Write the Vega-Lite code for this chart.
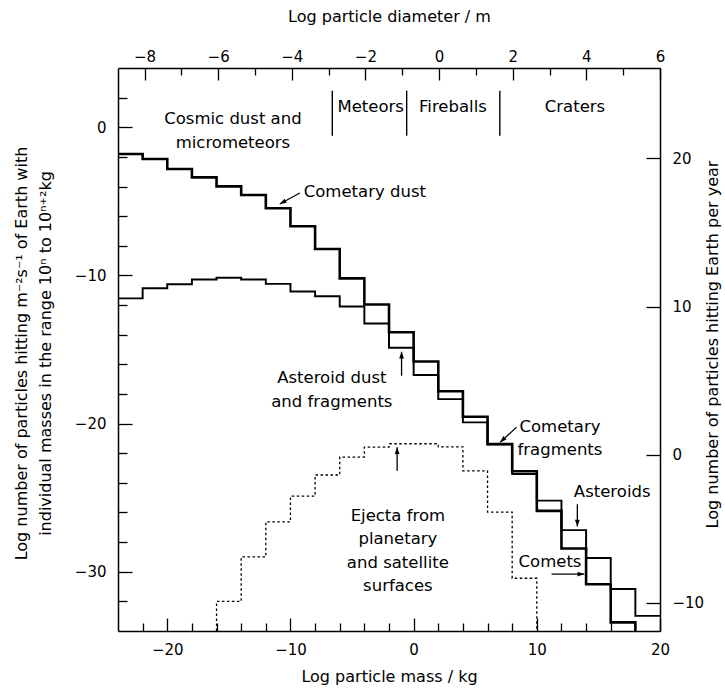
{
  "$schema": "https://vega.github.io/schema/vega-lite/v6.json",
  "width": 542,
  "height": 563,
  "autosize": {"type": "none"},
  "padding": {"left": 118, "top": 68, "right": 65, "bottom": 62},
  "background": "white",
  "config": {
    "view": {"stroke": null},
    "font": "DejaVu Sans",
    "axis": {
      "domainColor": "black", "domainWidth": 1.5, "tickColor": "black", "tickWidth": 1.3,
      "labelColor": "black", "titleColor": "black", "labelFont": "DejaVu Sans", "titleFont": "DejaVu Sans",
      "labelFontSize": 15, "titleFontSize": 16, "titleFontWeight": "normal", "grid": false,
      "labelOverlap": false, "labelFlush": false
    },
    "text": {"font": "DejaVu Sans", "fontSize": 16.5, "color": "black"}
  },
  "datasets": {
    "steps": [
      {"series": "comet", "i": 0, "m": -24, "v": -1.8},
      {"series": "comet", "i": 1, "m": -22, "v": -2.14},
      {"series": "comet", "i": 2, "m": -20, "v": -2.82},
      {"series": "comet", "i": 3, "m": -18, "v": -3.38},
      {"series": "comet", "i": 4, "m": -16, "v": -3.99},
      {"series": "comet", "i": 5, "m": -14, "v": -4.57},
      {"series": "comet", "i": 6, "m": -12, "v": -5.47},
      {"series": "comet", "i": 7, "m": -10, "v": -6.68},
      {"series": "comet", "i": 8, "m": -8, "v": -8.22},
      {"series": "comet", "i": 9, "m": -6, "v": -10.2},
      {"series": "comet", "i": 10, "m": -4, "v": -11.96},
      {"series": "comet", "i": 11, "m": -2, "v": -13.84},
      {"series": "comet", "i": 12, "m": 0, "v": -15.81},
      {"series": "comet", "i": 13, "m": 2, "v": -17.82},
      {"series": "comet", "i": 14, "m": 4, "v": -19.54},
      {"series": "comet", "i": 15, "m": 6, "v": -21.38},
      {"series": "comet", "i": 16, "m": 8, "v": -23.22},
      {"series": "comet", "i": 17, "m": 10, "v": -25.89},
      {"series": "comet", "i": 18, "m": 12, "v": -28.43},
      {"series": "comet", "i": 19, "m": 14, "v": -30.84},
      {"series": "comet", "i": 20, "m": 16, "v": -33.42},
      {"series": "comet", "i": 21, "m": 18, "v": -34},
      {"series": "asteroid", "i": 0, "m": -24, "v": -11.55},
      {"series": "asteroid", "i": 1, "m": -22, "v": -10.86},
      {"series": "asteroid", "i": 2, "m": -20, "v": -10.6},
      {"series": "asteroid", "i": 3, "m": -18, "v": -10.27},
      {"series": "asteroid", "i": 4, "m": -16, "v": -10.16},
      {"series": "asteroid", "i": 5, "m": -14, "v": -10.27},
      {"series": "asteroid", "i": 6, "m": -12, "v": -10.57},
      {"series": "asteroid", "i": 7, "m": -10, "v": -11.08},
      {"series": "asteroid", "i": 8, "m": -8, "v": -11.4},
      {"series": "asteroid", "i": 9, "m": -6, "v": -12.1},
      {"series": "asteroid", "i": 10, "m": -4, "v": -13.25},
      {"series": "asteroid", "i": 11, "m": -2, "v": -14.88},
      {"series": "asteroid", "i": 12, "m": 0, "v": -16.72},
      {"series": "asteroid", "i": 13, "m": 2, "v": -18.35},
      {"series": "asteroid", "i": 14, "m": 4, "v": -19.92},
      {"series": "asteroid", "i": 15, "m": 6, "v": -21.42},
      {"series": "asteroid", "i": 16, "m": 8, "v": -23.4},
      {"series": "asteroid", "i": 17, "m": 10, "v": -25.2},
      {"series": "asteroid", "i": 18, "m": 12, "v": -27.19},
      {"series": "asteroid", "i": 19, "m": 14, "v": -29.07},
      {"series": "asteroid", "i": 20, "m": 16, "v": -31.17},
      {"series": "asteroid", "i": 21, "m": 18, "v": -32.98},
      {"series": "asteroid", "i": 22, "m": 20, "v": -32.98},
      {"series": "ejecta", "i": 0, "m": -16, "v": -34},
      {"series": "ejecta", "i": 1, "m": -16, "v": -32.0},
      {"series": "ejecta", "i": 2, "m": -14, "v": -29.0},
      {"series": "ejecta", "i": 3, "m": -12, "v": -26.63},
      {"series": "ejecta", "i": 4, "m": -10, "v": -24.9},
      {"series": "ejecta", "i": 5, "m": -8, "v": -23.47},
      {"series": "ejecta", "i": 6, "m": -6, "v": -22.26},
      {"series": "ejecta", "i": 7, "m": -4, "v": -21.59},
      {"series": "ejecta", "i": 8, "m": -2, "v": -21.36},
      {"series": "ejecta", "i": 9, "m": 0, "v": -21.36},
      {"series": "ejecta", "i": 10, "m": 2, "v": -21.57},
      {"series": "ejecta", "i": 11, "m": 4, "v": -23.19},
      {"series": "ejecta", "i": 12, "m": 6, "v": -25.97},
      {"series": "ejecta", "i": 13, "m": 8, "v": -30.44},
      {"series": "ejecta", "i": 14, "m": 10, "v": -34}
    ],
    "labels": [
      {"txt": ["Cosmic dust and", "micrometeors"], "m": -14.67, "v": 0.54},
      {"txt": "Meteors", "m": -3.49, "v": 1.37},
      {"txt": "Fireballs", "m": 3.19, "v": 1.37},
      {"txt": "Craters", "m": 13.1, "v": 1.37},
      {"txt": "Cometary dust", "m": -3.96, "v": -4.37},
      {"txt": ["Asteroid dust", "and fragments"], "m": -6.64, "v": -16.94},
      {"txt": ["Cometary", "fragments"], "m": 11.88, "v": -20.22},
      {"txt": "Asteroids", "m": 16.12, "v": -24.65},
      {"txt": "Comets", "m": 11.07, "v": -29.37},
      {"txt": ["Ejecta from", "planetary", "and satellite", "surfaces"], "m": -1.28, "v": -26.23}
    ],
    "arrows": [
      {"name": "cometary dust", "m": -9.24, "v": -4.44, "m2": -10.87, "v2": -5.18},
      {"name": "asteroid dust", "m": -0.98, "v": -16.77, "m2": -0.98, "v2": -15.15},
      {"name": "cometary fragments", "m": 8.36, "v": -20.24, "m2": 7.01, "v2": -21.27},
      {"name": "asteroids", "m": 13.29, "v": -25.44, "m2": 13.29, "v2": -26.95},
      {"name": "comets", "m": 11.2, "v": -30.16, "m2": 13.85, "v2": -30.16},
      {"name": "ejecta", "m": -1.34, "v": -23.19, "m2": -1.34, "v2": -21.6}
    ],
    "dividers": [
      {"d": -2.9, "vtop": 2.47, "vbottom": -0.57},
      {"d": -0.88, "vtop": 2.47, "vbottom": -0.57},
      {"d": 1.65, "vtop": 2.47, "vbottom": -0.57}
    ],
    "yearticks": [{"per_year": -10}, {"per_year": 20}],
    "corner": [{"m": -24, "v": -34}, {"m": 20, "v": 4}]
  },
  "resolve": {"scale": {"x": "independent", "y": "independent"}},
  "layer": [
    {
      "layer": [
        {
          "data": {"name": "steps"},
          "mark": {"type": "line", "interpolate": "step-after", "color": "black", "strokeCap": "butt"},
          "encoding": {
            "x": {"field": "m", "type": "quantitative", "scale": {"domain": [-24, 20], "nice": false, "zero": false},
              "axis": {
                "orient": "bottom", "title": "Log particle mass / kg",
                "values": [-20, -10, 0, 10, 20],
                "tickSize": -13,
                "labelPadding": 24, "labelOverlap": false, "labelFlush": false,
                "titleX": 271, "titleY": 45, "titleBaseline": "middle", "titleAlign": "center"
              }},
            "y": {"field": "v", "type": "quantitative", "scale": {"domain": [-34, 4], "nice": false, "zero": false},
              "axis": {
                "orient": "left",
                "title": ["Log number of particles hitting m⁻²s⁻¹ of Earth with", "individual masses in the range 10ⁿ to 10ⁿ⁺²kg"],
                "values": [-30, -20, -10, 0],
                "tickSize": -14,
                "labelPadding": 26, "labelOverlap": false, "labelFlush": false,
                "titleX": -89, "titleY": 285, "titleAngle": -90, "titleBaseline": "bottom", "titleAlign": "center", "titleLineHeight": 24
              }},
            "detail": {"field": "series"},
            "order": {"field": "i", "type": "quantitative"},
            "strokeWidth": {"field": "series", "type": "nominal", "scale": {"domain": ["comet", "asteroid", "ejecta"], "range": [2.6, 1.3, 1.4]}, "legend": null},
            "strokeDash": {"field": "series", "type": "nominal", "scale": {"domain": ["comet", "asteroid", "ejecta"], "range": [[1, 0], [1, 0], [2.5, 2.5]]}, "legend": null}
          }
        },
        {
          "data": {"name": "labels"},
          "mark": {"type": "text", "align": "center", "baseline": "middle", "lineHeight": 23.5},
          "encoding": {
            "x": {"field": "m", "type": "quantitative"},
            "y": {"field": "v", "type": "quantitative"},
            "text": {"field": "txt"}
          }
        },
        {
          "data": {"name": "arrows"},
          "mark": {"type": "rule", "color": "black", "strokeWidth": 1.3},
          "encoding": {
            "x": {"field": "m", "type": "quantitative"},
            "y": {"field": "v", "type": "quantitative"},
            "x2": {"field": "m2"},
            "y2": {"field": "v2"}
          }
        },
        {
          "data": {"name": "arrows"},
          "transform": [{"filter": "datum.name === 'asteroid dust' || datum.name === 'ejecta'"}],
          "mark": {"type": "point", "shape": "M0,0 L-0.36,1 L0.36,1 Z", "filled": true, "color": "black", "opacity": 1, "size": 180, "angle": 0},
          "encoding": {"x": {"field": "m2", "type": "quantitative"}, "y": {"field": "v2", "type": "quantitative"}}
        },
        {
          "data": {"name": "arrows"},
          "transform": [{"filter": "datum.name === 'asteroids'"}],
          "mark": {"type": "point", "shape": "M0,0 L-0.36,1 L0.36,1 Z", "filled": true, "color": "black", "opacity": 1, "size": 180, "angle": 180},
          "encoding": {"x": {"field": "m2", "type": "quantitative"}, "y": {"field": "v2", "type": "quantitative"}}
        },
        {
          "data": {"name": "arrows"},
          "transform": [{"filter": "datum.name === 'comets'"}],
          "mark": {"type": "point", "shape": "M0,0 L-0.36,1 L0.36,1 Z", "filled": true, "color": "black", "opacity": 1, "size": 180, "angle": 90},
          "encoding": {"x": {"field": "m2", "type": "quantitative"}, "y": {"field": "v2", "type": "quantitative"}}
        },
        {
          "data": {"name": "arrows"},
          "transform": [{"filter": "datum.name === 'cometary dust'"}],
          "mark": {"type": "point", "shape": "M0,0 L-0.36,1 L0.36,1 Z", "filled": true, "color": "black", "opacity": 1, "size": 180, "angle": 241},
          "encoding": {"x": {"field": "m2", "type": "quantitative"}, "y": {"field": "v2", "type": "quantitative"}}
        },
        {
          "data": {"name": "arrows"},
          "transform": [{"filter": "datum.name === 'cometary fragments'"}],
          "mark": {"type": "point", "shape": "M0,0 L-0.36,1 L0.36,1 Z", "filled": true, "color": "black", "opacity": 1, "size": 180, "angle": 227},
          "encoding": {"x": {"field": "m2", "type": "quantitative"}, "y": {"field": "v2", "type": "quantitative"}}
        }
      ]
    },
    {
      "data": {"name": "dividers"},
      "mark": {"type": "rule", "color": "black", "strokeWidth": 1.4},
      "encoding": {
        "x": {"field": "d", "type": "quantitative", "scale": {"domain": [-8.72, 6.0], "nice": false, "zero": false},
          "axis": {
            "orient": "top", "title": "Log particle diameter / m",
            "values": [-8, -7, -6, -5, -4, -3, -2, -1, 0, 1, 2, 3, 4, 5, 6],
            "labelExpr": "datum.value % 2 === 0 ? datum.label : ''",
            "tickSize": {"condition": {"test": "datum.value % 2 === 0", "value": -12}, "value": -7},
            "labelPadding": 16, "labelOverlap": false, "labelFlush": false,
            "titleX": 271, "titleY": -52, "titleBaseline": "middle", "titleAlign": "center"
          }},
        "y": {"field": "vtop", "type": "quantitative", "scale": {"domain": [-34, 4], "nice": false, "zero": false}, "axis": null},
        "y2": {"field": "vbottom"}
      }
    },
    {
      "data": {"name": "yearticks"},
      "mark": {"type": "rule", "strokeOpacity": 0},
      "encoding": {
        "y": {"field": "per_year", "type": "quantitative", "scale": {"domain": [-11.9, 26.1], "nice": false, "zero": false},
          "axis": {
            "orient": "right", "title": "Log number of particles hitting Earth per year",
            "values": [-10, 0, 10, 20],
            "tickSize": -14,
            "labelPadding": 26, "labelOverlap": false, "labelFlush": false,
            "titleX": 52, "titleY": 276, "titleAngle": -90, "titleBaseline": "middle", "titleAlign": "center"
          }}
      }
    },
    {
      "data": {"name": "corner"},
      "mark": {"type": "point", "opacity": 0},
      "encoding": {
        "x": {"field": "m", "type": "quantitative", "scale": {"domain": [-24, 20], "nice": false, "zero": false},
          "axis": {"orient": "bottom", "title": null, "labels": false, "domain": false,
            "values": [-22, -18, -16, -14, -12, -8, -6, -4, -2, 2, 4, 6, 8, 12, 14, 16, 18], "tickSize": -8}},
        "y": {"field": "v", "type": "quantitative", "scale": {"domain": [-34, 4], "nice": false, "zero": false},
          "axis": {"orient": "left", "title": null, "labels": false, "domain": false,
            "values": [-32, -28, -26, -24, -22, -18, -16, -14, -12, -8, -6, -4, -2, 2], "tickSize": -9}}
      }
    }
  ]
}
